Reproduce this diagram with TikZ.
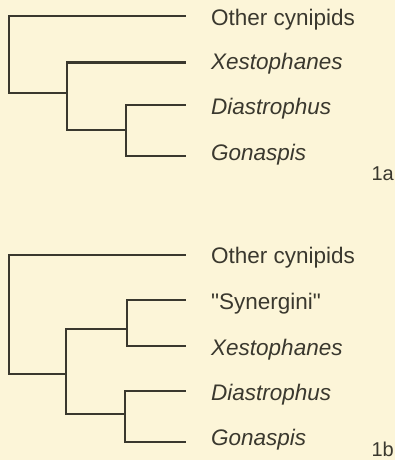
\documentclass[tikz,border=0pt]{standalone}
\usepackage{fontspec}
\setmainfont{Liberation Sans}[Ligatures=TeXOff]
\begin{document}
\begin{tikzpicture}[x=1pt,y=-1pt,
  branch/.style={draw=inkc,line width=2pt,line join=miter,line cap=rect},
  taxon/.style={anchor=base west,inner sep=0pt,text=inkc,font=\fontsize{22.5}{27}\selectfont},
  genus/.style={taxon,font=\fontsize{22.5}{27}\selectfont\itshape},
  panel/.style={anchor=base east,inner sep=0pt,text=inkc,font=\fontsize{20}{24}\selectfont}]
\definecolor{paper}{RGB}{252,245,216}
\definecolor{inkc}{RGB}{58,56,46}
\fill[paper] (0,0) rectangle (395,460);
\useasboundingbox (0,0) rectangle (395,460);

% ---- tree 1a ----
\coordinate (a-root) at (8.5,93);
\coordinate (a-n1) at (67,93);
\coordinate (a-n2) at (126,130);
\coordinate (a-t1) at (185,16);
\coordinate (a-t2) at (185,62.5);
\coordinate (a-t3) at (185,105);
\coordinate (a-t4) at (185,155.5);
\draw[branch] (a-t1) -| (a-root) -- (a-n1);
\draw[branch] (a-t2) -| (a-n1) |- (a-n2);
\draw[branch] (a-t3) -| (a-n2) |- (a-t4);

\node[taxon] (a-l1) at (211,26) {Other cynipids};
\node[genus] (a-l2) at (211,70) {Xestophanes};
\node[genus] (a-l3) at (211,114) {Diastrophus};
\node[genus] (a-l4) at (211,160) {Gonaspis};
\node[panel] (a-lab) at (394,180) {1a};

% ---- tree 1b ----
\coordinate (b-root) at (8.5,374);
\coordinate (b-n1) at (66,374);
\coordinate (b-n2) at (127,329);
\coordinate (b-n3) at (125,414);
\coordinate (b-t1) at (185,255);
\coordinate (b-t2) at (185,300);
\coordinate (b-t3) at (185,346);
\coordinate (b-t4) at (185,390.5);
\coordinate (b-t5) at (185,441.5);
\draw[branch] (b-t1) -| (b-root) -- (b-n1);
\draw[branch] (b-n2) -| (b-n1) |- (b-n3);
\draw[branch] (b-t2) -| (b-n2) |- (b-t3);
\draw[branch] (b-t4) -| (b-n3) |- (b-t5);

\node[taxon] (b-l1) at (211,263) {Other cynipids};
\node[taxon] (b-l2) at (211,309) {"Synergini"};
\node[genus] (b-l3) at (211,355) {Xestophanes};
\node[genus] (b-l4) at (211,400) {Diastrophus};
\node[genus] (b-l5) at (211,445) {Gonaspis};
\node[panel] (b-lab) at (394,456) {1b};
\end{tikzpicture}
\end{document}
